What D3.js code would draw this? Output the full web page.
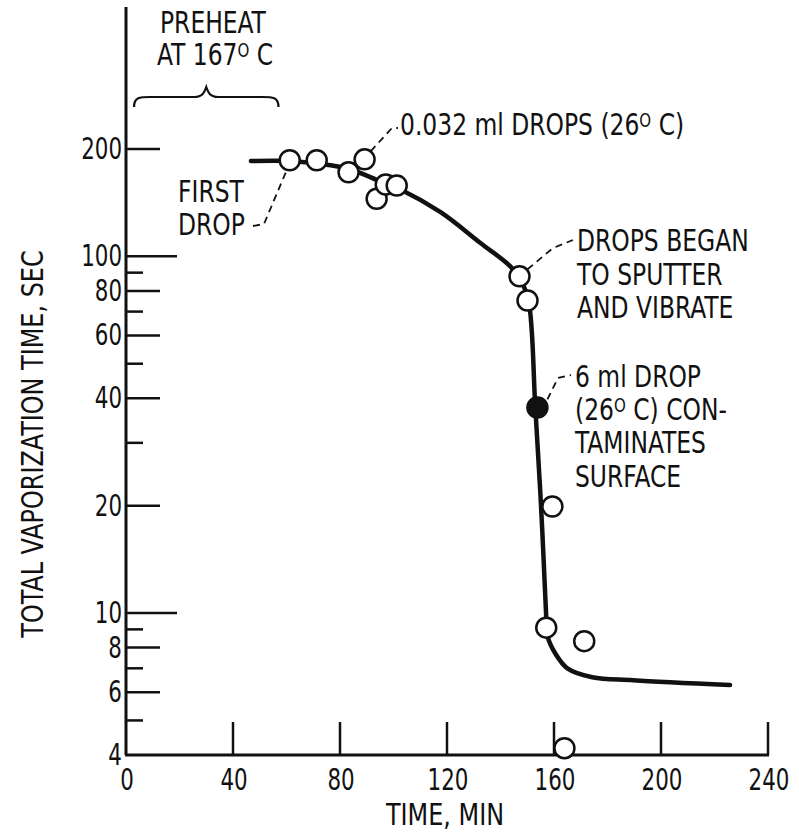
<!DOCTYPE html>
<html>
<head>
<meta charset="utf-8">
<script src="https://cdn.jsdelivr.net/npm/d3@7"></script>
<style>
  body { margin:0; background:#fff; }
  text { font-family:'Liberation Sans Narrow','DejaVu Sans Condensed','Arial Narrow',sans-serif; font-size:28px; fill:#111; }
</style>
</head>
<body>
<script>
// time (min) and total vaporization time (sec)
const pointT = [61.2, 71.3, 83.2, 89.2, 93.7, 97.1, 101.2, 147.1, 150.1, 159.4, 157.1, 171.3, 163.9]
const pointV = [186, 186, 172, 187, 145, 159, 158, 87.9, 75.2, 19.9, 9.1, 8.34, 4.18]
// the 6 ml drop that contaminated the surface
const dropT = [153.8]
const dropV = [37.7]
// faired curve
const curveT = [46.7, 61.2, 71.3, 83.2, 95.2, 102.6, 117.6, 132.5, 143.7, 147.4, 150.4, 153.0, 154.9, 156.0, 157.1, 157.6, 160.5, 165, 174.3, 189.6, 225.8]
const curveV = [185, 185, 182, 176, 162, 154, 133, 109, 93.7, 86.1, 75.7, 37.9, 21.7, 14.8, 9.74, 8.6, 7.7, 7.0, 6.61, 6.48, 6.28]
// axis ticks
const xTicks = [40, 80, 120, 160, 200, 240]
const xLabels = [0, 40, 80, 120, 160, 200, 240]
const yLabels = [4, 6, 8, 10, 20, 40, 60, 80, 100, 200]
const yLong = [10, 100]
const yMid = [6, 8, 20, 40, 60, 80, 200]
const yShort = [5, 7, 9, 30, 50, 70, 90]
const preheat = [3, 57]

const W = 799, H = 832
const svg = d3.select('body').append('svg').attr('width',W).attr('height',H)
svg.append('rect').attr('width',W).attr('height',H).attr('fill','#fff')

const x = d3.scaleLinear().domain([0,240]).range([126,768])
const y = d3.scaleLog().domain([4,500]).range([755,7])

// condensed lettering like the original typewriter-style labels
const squeeze = (px,py,sx=0.93) => `translate(${px},${py}) scale(${sx},1.05)`

// axes
const $axes = svg.append('g').attr('stroke','#111').attr('fill','none')
$axes.append('line').attr('x1',x(0)).attr('x2',x(0)).attr('y1',y(500)).attr('y2',y(4)).attr('stroke-width',3)
$axes.append('line').attr('x1',x(0)-1).attr('x2',x(240)+1).attr('y1',y(4)).attr('y2',y(4)).attr('stroke-width',3)
const tickLen = v => yLong.includes(v) ? 51 : yMid.includes(v) ? 34 : 17
$axes.selectAll('line.ytick').data(yLong.concat(yMid,yShort)).enter().append('line')
  .classed('ytick',true)
  .attr('x1',x(0)).attr('x2',v => x(0)+tickLen(v))
  .attr('y1',v => y(v)).attr('y2',v => y(v))
  .attr('stroke-width',2.5)
$axes.selectAll('line.xtick').data(xTicks).enter().append('line')
  .classed('xtick',true)
  .attr('x1',t => x(t)).attr('x2',t => x(t))
  .attr('y1',y(4)).attr('y2',y(4)-33)
  .attr('stroke-width',2.5)

svg.append('g').selectAll('text').data(yLabels).enter().append('text')
  .attr('transform',v => squeeze(x(0)-4,y(v)+10,0.85))
  .attr('text-anchor','end').text(v => v)
svg.append('g').selectAll('text').data(xLabels).enter().append('text')
  .attr('transform',t => squeeze(x(t)+1,790,0.85))
  .attr('text-anchor','middle').text(t => t)

svg.append('text').attr('transform',squeeze(445,825,0.95)).attr('text-anchor','middle').text('TIME, MIN')
svg.append('text').attr('transform','translate(43,444) rotate(-90) scale(0.95,1.05)').attr('text-anchor','middle')
  .text('TOTAL VAPORIZATION TIME, SEC')

// curve
const line = d3.line().x(d => x(d[0])).y(d => y(d[1])).curve(d3.curveCatmullRom.alpha(0.5))
svg.append('path').datum(d3.zip(curveT,curveV))
  .attr('d',line).attr('fill','none').attr('stroke','#111')
  .attr('stroke-width',4.5).attr('stroke-linejoin','round').attr('stroke-linecap','round')

// points
svg.append('g').selectAll('circle').data(d3.zip(pointT,pointV)).enter().append('circle')
  .attr('cx',d => x(d[0])).attr('cy',d => y(d[1])).attr('r',10)
  .attr('fill','#fff').attr('stroke','#111').attr('stroke-width',2.5)
svg.append('g').selectAll('circle').data(d3.zip(dropT,dropV)).enter().append('circle')
  .attr('cx',d => x(d[0])).attr('cy',d => y(d[1])).attr('r',10.5)
  .attr('fill','#111').attr('stroke','#111').attr('stroke-width',1.5)

// brace over preheat period
const bx0 = x(preheat[0]), bx1 = x(preheat[1]), bm = (bx0+bx1)/2
svg.append('path')
  .attr('d',`M${bx0},107 C${bx0},97 ${bx0+6},97 ${bx0+16},97 L${bm-12},97 C${bm-4},97 ${bm-2},93 ${bm},87 C${bm+2},93 ${bm+4},97 ${bm+12},97 L${bx1-16},97 C${bx1-6},97 ${bx1},97 ${bx1},107`)
  .attr('fill','none').attr('stroke','#111').attr('stroke-width',2.2)

// leaders
const leaders = [
  [[253,226],[264,224],[x(pointT[0])-3,y(pointV[0])+10]],
  [[x(pointT[3])+6,y(pointV[3])-8],[392,128],[398,128]],
  [[x(pointT[7])+8,y(pointV[7])-7],[553,248],[573,240]],
  [[x(dropT[0])+10,y(dropV[0])-8],[558,378],[571,375]]
]
svg.append('g').selectAll('path').data(leaders).enter().append('path')
  .attr('d',d3.line()).attr('fill','none').attr('stroke','#111')
  .attr('stroke-width',1.8).attr('stroke-dasharray','7,5')

// annotation text; {raised:'O'} is the small raised degree "O"
function label(px,py,parts){
  const t = svg.append('text').attr('transform',squeeze(px,py))
  parts.forEach(p => {
    if(typeof p == 'object'){
      t.append('tspan').attr('dy',-8).attr('font-size',18).text(p.raised)
      t.append('tspan').attr('dy',8).text('\u00a0')
    } else t.append('tspan').text(p)
  })
}
label(160,33,['PREHEAT'])
label(157,65,['AT 167',{raised:'O'},'C'])
label(178,202,['FIRST'])
label(178,235,['DROP'])
label(400,135,['0.032 ml DROPS (26',{raised:'O'},'C)'])
label(577,251,['DROPS BEGAN'])
label(577,285,['TO SPUTTER'])
label(577,318,['AND VIBRATE'])
label(575,387,['6 ml DROP'])
label(575,420,['(26',{raised:'O'},'C) CON-'])
label(575,453,['TAMINATES'])
label(575,487,['SURFACE'])
</script>
</body>
</html>
